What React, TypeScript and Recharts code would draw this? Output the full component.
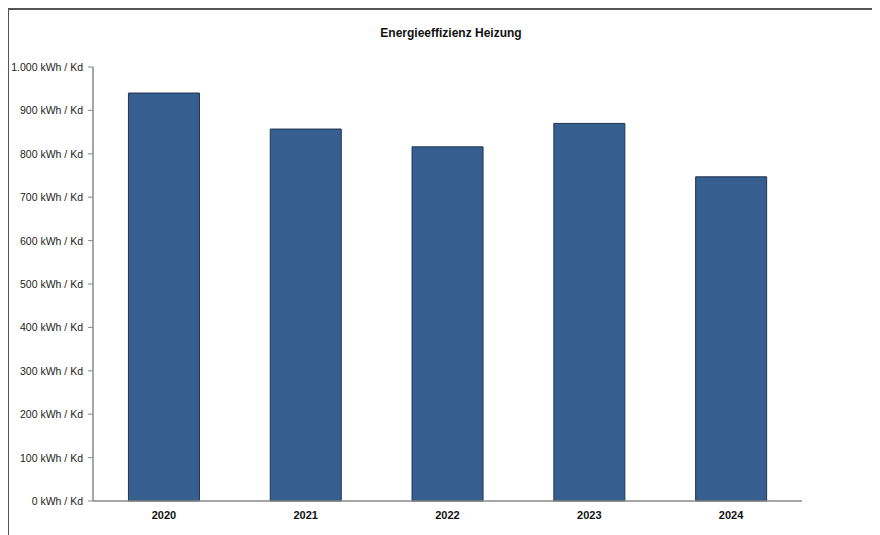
import { BarChart, Bar, XAxis, YAxis } from "recharts"

// Jahre und Werte (kWh / Kd)
const years = ["2020", "2021", "2022", "2023", "2024"]
const values = [940, 857, 816, 870, 747]
const yTicks = [0, 100, 200, 300, 400, 500, 600, 700, 800, 900, 1000]
const bandTicks = [0, 1, 2, 3, 4, 5]

const data = years.map((year, i) => ({ year, value: values[i], pos: i + 0.5 }))

const fmt = (v: number) => `${v.toLocaleString("de-DE")} kWh / Kd`

// y-Beschriftung ohne Zeilenumbruch
const YTick = ({ x, y, payload }: any) => (
  <text x={x - 2} y={y} dy={4} textAnchor="end" fontSize={10.5} fill="#222">
    {fmt(payload.value)}
  </text>
)

// kleine Striche zwischen den Kategorien
const BandTick = ({ x, y }: any) => (
  <line x1={x} x2={x} y1={y} y2={y + 5} stroke="#888" strokeWidth={1.2} />
)

export default function App() {
  return (
    <div
      style={{
        position: "relative",
        width: 872,
        height: 527,
        overflow: "hidden",
        fontFamily: "'Liberation Sans', Arial, sans-serif",
      }}
    >
      {/* Rahmen (nur oben und links sichtbar) */}
      <div
        style={{
          position: "absolute",
          left: -1,
          top: 0,
          width: 900,
          height: 600,
          borderLeft: "2px solid #555",
          borderTop: "2px solid #555",
          boxSizing: "border-box",
        }}
      />

      {/* Titel */}
      <div
        style={{
          position: "absolute",
          left: 0,
          width: 886,
          top: 18,
          textAlign: "center",
          fontSize: 12,
          fontWeight: "bold",
          color: "#111",
        }}
      >
        Energieeffizienz Heizung
      </div>

      <BarChart
        width={872}
        height={527}
        data={data}
        margin={{ top: 59, right: 78, bottom: 9, left: 0 }}
        barCategoryGap="25%"
      >
        <XAxis
          xAxisId="band"
          type="number"
          dataKey="pos"
          domain={[0, 5]}
          ticks={bandTicks}
          height={0}
          tick={<BandTick />}
          axisLine={false}
          tickLine={false}
          tickMargin={0}
        />
        <XAxis
          dataKey="year"
          height={25}
          axisLine={{ stroke: "#888", strokeWidth: 1.5 }}
          tickLine={false}
          tick={{ fontSize: 11, fontWeight: "bold", fill: "#111" }}
          tickMargin={4}
        />
        <YAxis
          width={85}
          domain={[0, 1000]}
          ticks={yTicks}
          tick={<YTick />}
          axisLine={{ stroke: "#888", strokeWidth: 1.5 }}
          tickLine={{ stroke: "#888" }}
          tickSize={5}
          tickMargin={3}
          interval={0}
        />
        <Bar
          dataKey="value"
          fill="#365E8F"
          stroke="#1F3452"
          strokeWidth={1}
          isAnimationActive={false}
        />
      </BarChart>
    </div>
  )
}
